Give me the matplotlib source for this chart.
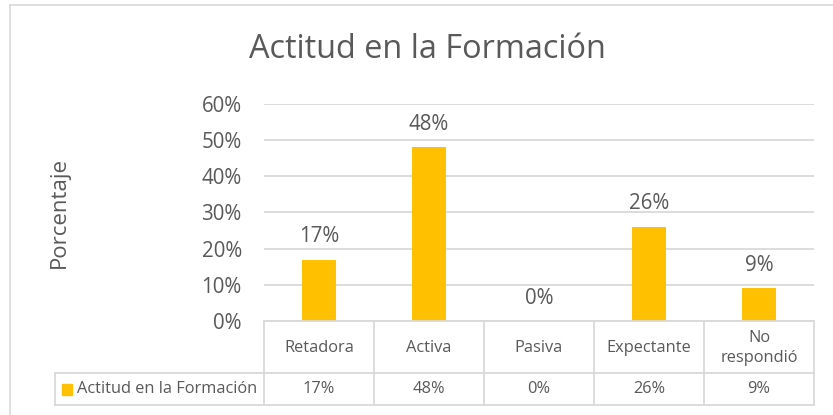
import matplotlib
matplotlib.use("Agg")
import matplotlib.pyplot as plt
from matplotlib.patches import Rectangle
from matplotlib.lines import Line2D
import matplotlib.transforms as mtransforms

categories = ["Retadora", "Activa", "Pasiva", "Expectante", "No\nrespondió"]
values = [17, 48, 0, 26, 9]
value_labels = ["17%", "48%", "0%", "26%", "9%"]
yticks = [0, 10, 20, 30, 40, 50, 60]
ytick_labels = ["0%", "10%", "20%", "30%", "40%", "50%", "60%"]
series_name = "Actitud en la Formación"
title = "Actitud en la Formación"
ylabel = "Porcentaje"

plt.rcParams['font.family'] = ['Open Sans', 'DejaVu Sans']
TXT = "#595959"
GRID = "#d9d9d9"
BAR = "#FFC000"

W, H = 833, 415
fig = plt.figure(figsize=(W / 100, H / 100), dpi=100)

def fx(px):
    return px / W

def fy(py):
    return 1 - py / H

# chart border
fig.add_artist(Line2D([fx(9.5), fx(9.5)], [fy(5.5), fy(420)], color=GRID, lw=1.2))
fig.add_artist(Line2D([fx(9.5), fx(840)], [fy(5.5), fy(5.5)], color=GRID, lw=1.2))

left, right, top, bottom = 264, 814, 104, 321
ax = fig.add_axes([fx(left), fy(bottom), fx(right) - fx(left), fy(top) - fy(bottom)])
x = list(range(len(categories)))
ax.bar(x, values, width=0.31, color=BAR, zorder=3)
ax.set_xlim(-0.5, len(categories) - 0.5)
ax.set_ylim(0, 60)
ax.set_yticks(yticks)
ax.set_yticklabels(ytick_labels, fontsize=14.8, color=TXT)
ax.set_xticks([])
ax.yaxis.grid(True, color=GRID, lw=1.3, zorder=0)
ax.tick_params(axis='y', length=0, pad=16)
for s in ax.spines.values():
    s.set_visible(False)
for xi, v, lab in zip(x, values, value_labels):
    ax.annotate(lab, (xi, v), xytext=(0, 9), textcoords='offset points',
                ha='center', va='bottom', fontsize=14.8, color=TXT)

fig.text(fx(427), fy(50), title, ha='center', va='center', fontsize=23.4, color=TXT)
fig.text(fx(59), fy(212), ylabel, ha='center', va='center', rotation=90, fontsize=16, color=TXT)

# data table
trans = mtransforms.blended_transform_factory(ax.transData, fig.transFigure)
r1, r2, r3 = fy(321), fy(373), fy(405)
xb = [i - 0.5 for i in range(len(categories) + 1)]
fig.add_artist(Line2D([fx(55), fx(right)], [r2, r2], color=GRID, lw=1.3))
fig.add_artist(Line2D([fx(55), fx(right)], [r3, r3], color=GRID, lw=1.3))
fig.add_artist(Line2D([fx(left), fx(right)], [r1, r1], color=GRID, lw=1.3))
fig.add_artist(Line2D([fx(55), fx(55)], [r2, r3], color=GRID, lw=1.3))
for b in xb:
    fig.add_artist(Line2D([b, b], [r1, r3], color=GRID, lw=1.3, transform=trans))
for xi, cat, lab in zip(x, categories, value_labels):
    fig.text(xi, (r1 + r2) / 2 - 0.002, cat, transform=trans, ha='center', va='center',
             fontsize=11.8, color=TXT, linespacing=1.35)
    fig.text(xi, (r2 + r3) / 2, lab, transform=trans, ha='center', va='center',
             fontsize=11.8, color=TXT)
fig.add_artist(Rectangle((fx(62), fy(395)), fx(10), fy(384) - fy(395), color=BAR))
fig.text(fx(77), (r2 + r3) / 2, series_name, ha='left', va='center', fontsize=11.8, color=TXT)

fig.savefig("out.png", dpi=100)
